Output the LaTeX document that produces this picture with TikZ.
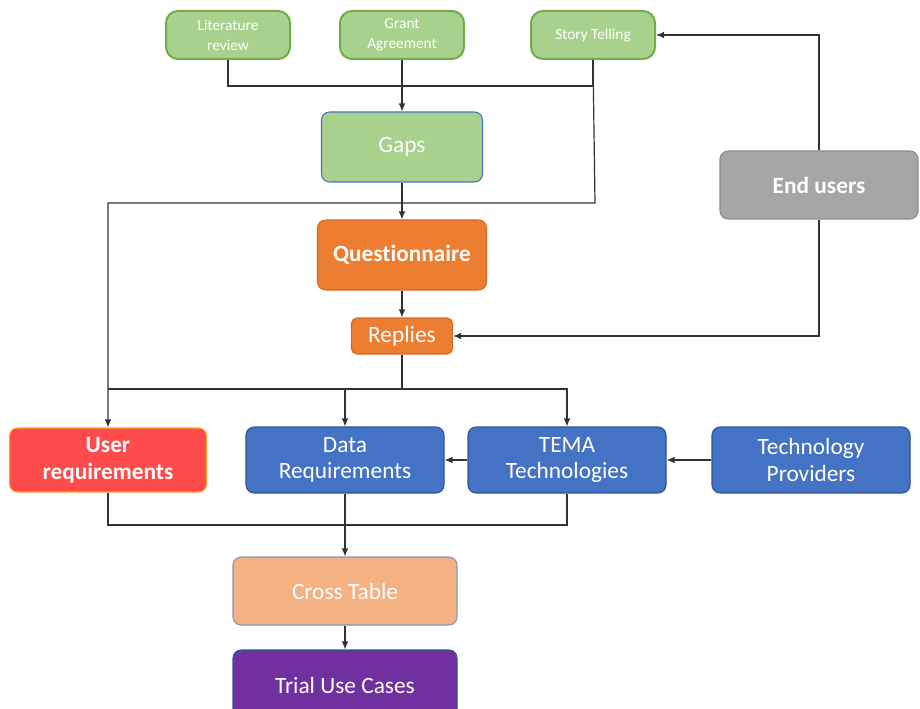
\documentclass[tikz,border=0pt]{standalone}
\usepackage{fontspec}
\setmainfont[Ligatures=NoCommon]{Carlito}
\usetikzlibrary{arrows.meta}

\definecolor{grfill}{HTML}{A9D18E}
\definecolor{grline}{HTML}{70AD47}
\definecolor{orfill}{HTML}{ED7D31}
\definecolor{orline}{HTML}{D46A22}
\definecolor{rdfill}{HTML}{FF4B4B}
\definecolor{rdline}{HTML}{F5A623}
\definecolor{blfill}{HTML}{4472C4}
\definecolor{blline}{HTML}{2F5597}
\definecolor{gyfill}{HTML}{A6A6A6}
\definecolor{gyline}{HTML}{8C8C8C}
\definecolor{pefill}{HTML}{F4B183}
\definecolor{peline}{HTML}{8497B0}
\definecolor{pufill}{HTML}{7030A0}

\tikzset{
    box/.style={rounded corners=6pt, draw, line width=0.8pt, inner sep=0pt,
        align=center, text=white, font=\fontsize{17.5}{20}\selectfont},
    topbox/.style={box, rounded corners=9pt, fill=grfill, draw=grline,
        line width=1.5pt, minimum width=93pt, minimum height=36pt,
        font=\fontsize{11.5}{15}\selectfont},
    conn/.style={draw=black!80, line width=0.9pt},
}

\begin{document}
\begin{tikzpicture}[x=0.75pt, y=-0.75pt, >={Latex[length=6pt,width=5pt]}]
    \useasboundingbox (0,0) rectangle (920,709);

    %—————— fuentes ——————
    \node[topbox] (lit)   at (228,35) {Literature\\review};
    \node[topbox] (grant) at (402,35) {Grant\\Agreement};
    \node[topbox] (story) at (593,35) {Story Telling};

    %—————— cuestionario ——————
    \node[box, fill=grfill, draw=blfill, minimum width=120.75pt, minimum height=52.5pt]
        (gaps) at (402,147) {Gaps};
    \node[box, fill=orfill, draw=orline, minimum width=126.75pt, minimum height=52.5pt,
        font=\fontsize{17.5}{20}\selectfont\bfseries] (quest) at (402,255) {Questionnaire};
    \node[box, rounded corners=4pt, fill=orfill, draw=orline, minimum width=75.75pt,
        minimum height=27pt] (replies) at (402,336) {Replies};
    \node[box, fill=gyfill, draw=gyline, minimum width=148.5pt, minimum height=51pt,
        font=\fontsize{17.5}{20}\selectfont\bfseries] (endu) at (819,185) {End users};

    %—————— requisitos ——————
    \node[box, fill=rdfill, draw=rdline, minimum width=147.75pt, minimum height=48pt,
        font=\fontsize{17.5}{20}\selectfont\bfseries] (ureq) at (108,460) {User\\requirements};
    \node[box, fill=blfill, draw=blline, minimum width=148.5pt, minimum height=49.5pt]
        (dreq) at (345,460) {Data\\Requirements};
    \node[box, fill=blfill, draw=blline, minimum width=148.5pt, minimum height=49.5pt]
        (tema) at (567,460) {TEMA\\Technologies};
    \node[box, fill=blfill, draw=blline, minimum width=148.5pt, minimum height=49.5pt]
        (prov) at (811,460) {Technology\\Providers};

    %—————— resultado ——————
    \node[box, fill=pefill, draw=peline, minimum width=168pt, minimum height=51pt]
        (cross) at (345,591) {Cross Table};
    \node[box, fill=pufill, draw=blline, minimum width=168pt, minimum height=52.5pt]
        (trial) at (345,685) {Trial Use Cases};

    % puntos de unión
    \coordinate (topbus) at (402,86);
    \coordinate (leftbus) at (595,203);
    \coordinate (midbus) at (402,389);
    \coordinate (lowbus) at (345,525);

    %—————— conectores ——————
    \draw[conn] (lit.south) |- (topbus) -| (story.south);
    \draw[conn, ->] (grant) -- (gaps);
    \draw[conn, ->] (gaps) -- (quest);
    \draw[conn, ->] (quest) -- (replies);
    \draw[conn, ->] (story.south) -- (leftbus) -| (ureq.north);
    \draw[conn, ->] (endu.north) |- (story.east);
    \draw[conn, ->] (endu.south) |- (replies.east);

    \draw[conn] (replies) -- (midbus) -- (ureq.north |- midbus);
    \draw[conn, ->] (midbus) -| (dreq.north);
    \draw[conn, ->] (midbus) -| (tema.north);
    \draw[conn, ->] (prov) -- (tema);
    \draw[conn, ->] (tema) -- (dreq);

    \draw[conn] (ureq.south) |- (lowbus) -| (tema.south);
    \draw[conn, ->] (dreq) -- (cross);
    \draw[conn, ->] (cross) -- (trial);
\end{tikzpicture}
\end{document}
